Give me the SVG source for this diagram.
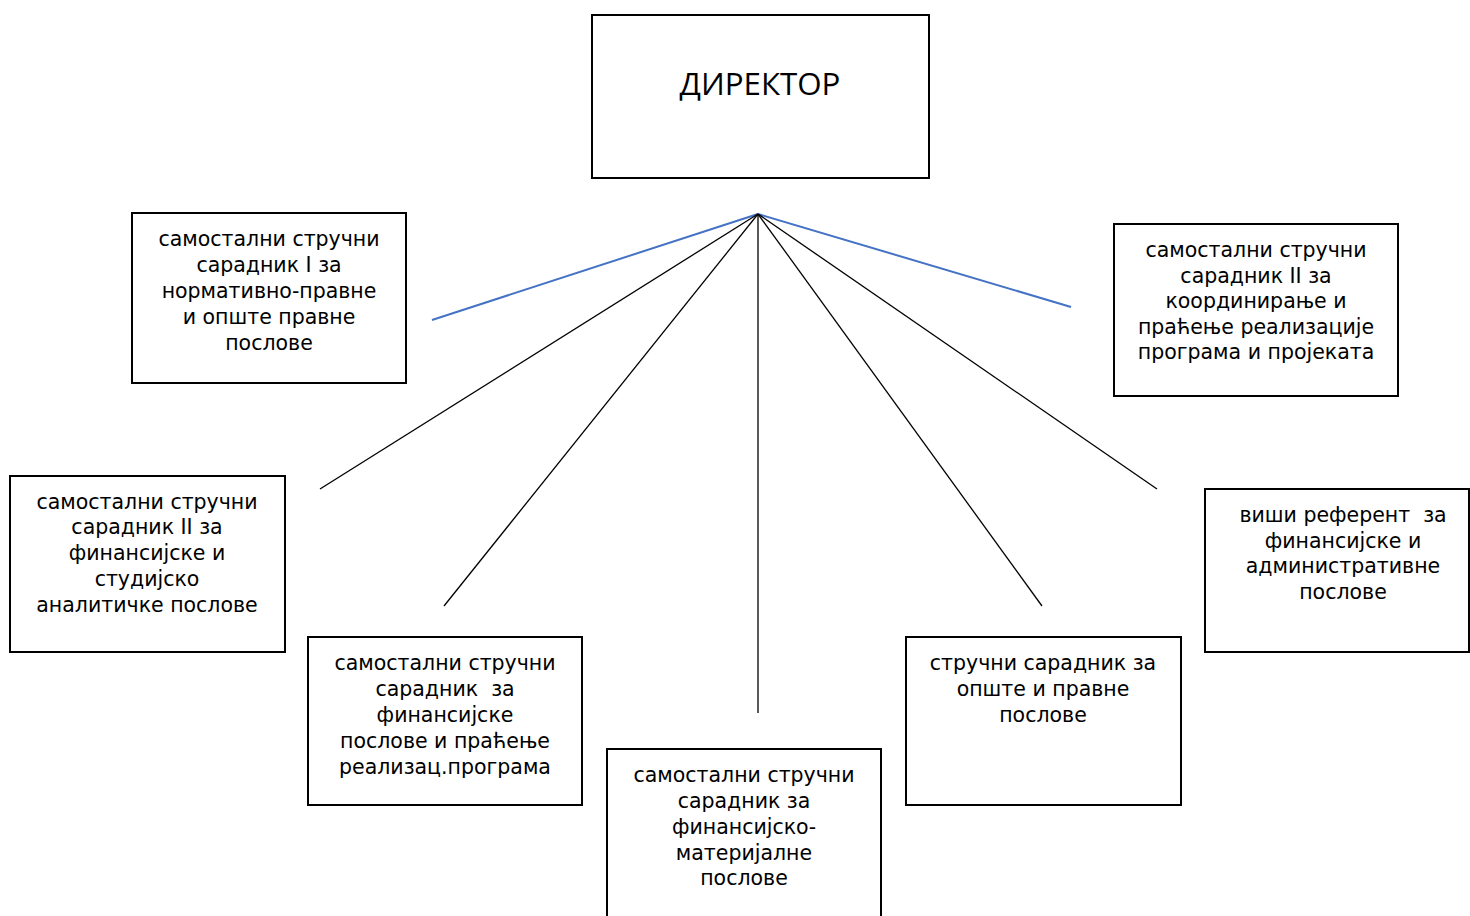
<svg xmlns="http://www.w3.org/2000/svg" width="1470" height="916" viewBox="0 0 1470 916">
<style>
.box{fill:#fff;stroke:#000;stroke-width:2}
.t{font-family:"DejaVu Sans","Liberation Sans",sans-serif;font-size:20.5px;fill:#000;text-anchor:middle}
.title{font-family:"Open Sans","Liberation Sans",sans-serif;font-size:31.3px;fill:#000;text-anchor:middle}
.blue{stroke:#4472C4;stroke-width:2;fill:none}
.blk{stroke:#000;stroke-width:1.3;fill:none}
</style>
<rect width="1470" height="916" fill="#fff"/>
<g id="connectors">
<line class="blue" x1="758" y1="214" x2="432" y2="320"/>
<line class="blue" x1="758" y1="214" x2="1071" y2="307"/>
<line class="blk" x1="758" y1="214" x2="320" y2="489"/>
<line class="blk" x1="758" y1="214" x2="444" y2="606"/>
<line class="blk" x1="758" y1="214" x2="758" y2="713"/>
<line class="blk" x1="758" y1="214" x2="1042" y2="606"/>
<line class="blk" x1="758" y1="214" x2="1157" y2="489"/>
</g>
<g id="director">
<rect class="box" x="592" y="15" width="337" height="163"/>
<text class="title" x="760" y="95">ДИРЕКТОР</text>
</g>
<g id="node1">
<rect class="box" x="132" y="213" width="274" height="170"/>
<text class="t" x="269"><tspan x="269" y="246">самостални стручни</tspan><tspan x="269" y="272">сарадник I за</tspan><tspan x="269" y="298">нормативно-правне</tspan><tspan x="269" y="324">и опште правне</tspan><tspan x="269" y="350">послове</tspan></text>
</g>
<g id="node2">
<rect class="box" x="1114" y="224" width="284" height="172"/>
<text class="t" x="1256"><tspan x="1256" y="257">самостални стручни</tspan><tspan x="1256" y="283">сарадник II за</tspan><tspan x="1256" y="308">координирање и</tspan><tspan x="1256" y="334">праћење реализације</tspan><tspan x="1256" y="359">програма и пројеката</tspan></text>
</g>
<g id="node3">
<rect class="box" x="10" y="476" width="275" height="176"/>
<text class="t" x="147"><tspan x="147" y="509">самостални стручни</tspan><tspan x="147" y="534">сарадник II за</tspan><tspan x="147" y="560">финансијске и</tspan><tspan x="147" y="586">студијско</tspan><tspan x="147" y="612">аналитичке послове</tspan></text>
</g>
<g id="node4">
<rect class="box" x="308" y="637" width="274" height="168"/>
<text class="t" x="445" xml:space="preserve"><tspan x="445" y="670">самостални стручни</tspan><tspan x="445" y="696">сарадник  за</tspan><tspan x="445" y="722">финансијске</tspan><tspan x="445" y="748">послове и праћење</tspan><tspan x="445" y="774">реализац.програма</tspan></text>
</g>
<g id="node5">
<rect class="box" x="607" y="749" width="274" height="175"/>
<text class="t" x="744"><tspan x="744" y="782">самостални стручни</tspan><tspan x="744" y="808">сарадник за</tspan><tspan x="744" y="834">финансијско-</tspan><tspan x="744" y="860">материјалне</tspan><tspan x="744" y="885">послове</tspan></text>
</g>
<g id="node6">
<rect class="box" x="906" y="637" width="275" height="168"/>
<text class="t" x="1043"><tspan x="1043" y="670">стручни сарадник за</tspan><tspan x="1043" y="696">опште и правне</tspan><tspan x="1043" y="722">послове</tspan></text>
</g>
<g id="node7">
<rect class="box" x="1205" y="489" width="264" height="163"/>
<text class="t" x="1343" xml:space="preserve"><tspan x="1343" y="522">виши референт  за</tspan><tspan x="1343" y="548">финансијске и</tspan><tspan x="1343" y="573">административне</tspan><tspan x="1343" y="599">послове</tspan></text>
</g>
</svg>
